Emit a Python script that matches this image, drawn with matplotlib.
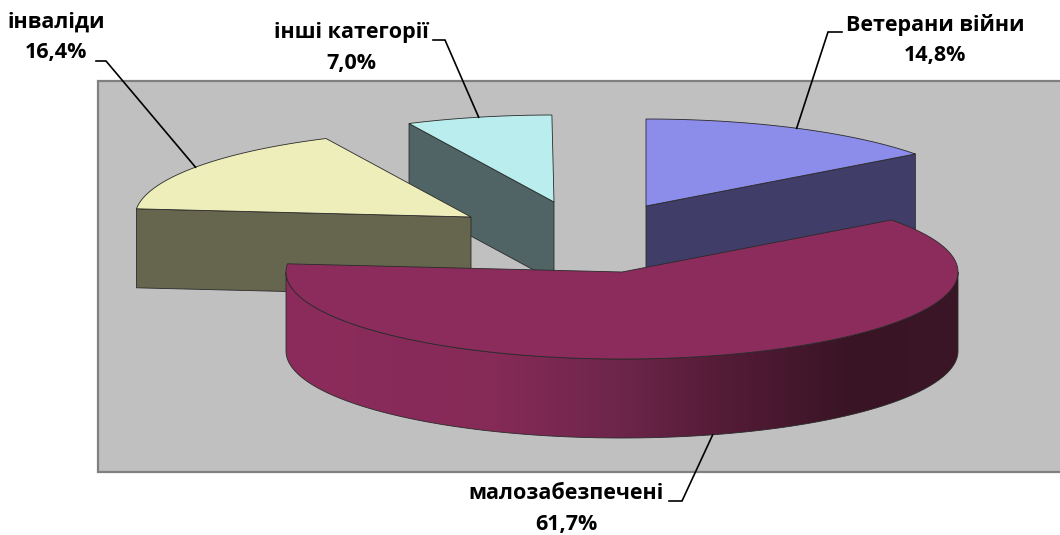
import numpy as np
import matplotlib
matplotlib.use('Agg')
import matplotlib.pyplot as plt
from matplotlib.colors import LinearSegmentedColormap
from matplotlib.patches import Polygon, Rectangle

plt.rcParams['font.family'] = ['Open Sans', 'DejaVu Sans']

# Datos del gráfico
categorias = ['Ветерани війни', 'малозабезпечені', 'інваліди', 'інші категорії']
porcentajes = [14.8, 61.7, 16.4, 7.0]
etiquetas = ['14,8%', '61,7%', '16,4%', '7,0%']

# Estilo de cada sector
centros = [(646, 206), (622, 272), (471, 217), (554, 202)]
color_arriba = ['#8C8CEB', '#8C2C5C', '#EEEEBA', '#BAEEEE']
color_lado = ['#403E68', '#8C2C5C', '#66664E', '#506466']
orden = [3, 0, 2, 1]
texto_pos = [(935, 40), (566, 509), (56, 37), (351, 48)]
guia_fin = [(842, 32), (669, 501), (96, 61), (433, 40)]
guia_codo = [(828, 32), (682, 501), (106, 61), (445, 40)]

RX, RY, PROF = 336, 87, 79
BORDE = '#2A2A2A'

fig = plt.figure(figsize=(10.6, 5.35), dpi=100)
ax = fig.add_axes([0, 0, 1, 1])

ax.add_patch(Rectangle((98, 81), 1000, 391, facecolor='#C0C0C0', edgecolor='#808080', lw=1.6, zorder=1))


def borde(c, t):
    t = np.radians(t)
    return np.column_stack([c[0] + RX * np.cos(t), c[1] - RY * np.sin(t)])


# Ángulos de inicio y fin, en sentido horario desde arriba
fin = 90 - 3.6 * np.cumsum(porcentajes)
inicio = fin + 3.6 * np.array(porcentajes)

z = 2
for i in orden:
    c = centros[i]
    a0, a1 = inicio[i], fin[i]
    # caras radiales visibles
    for a, n in [(a0, a0 + 90), (a1, a1 - 90)]:
        if np.sin(np.radians(n)) < -1e-6:
            p = borde(c, a)[0]
            cara = [c, p, (p[0], p[1] + PROF), (c[0], c[1] + PROF)]
            ax.add_patch(Polygon(cara, facecolor=color_lado[i], edgecolor=BORDE, lw=0.6, zorder=z))
    # pared curva frontal
    ts = np.linspace(a0, a1, 400)
    ts = ts[np.sin(np.radians(ts)) < 0]
    if len(ts) > 1:
        arr = borde(c, ts)
        aba = arr[::-1] + [0, PROF]
        pared = Polygon(np.vstack([arr, aba]), facecolor='none', edgecolor=BORDE, lw=0.6, zorder=z + 0.2)
        ax.add_patch(pared)
        cmap = LinearSegmentedColormap.from_list('lado', [
            (0.0, '#8C2C5C'), (0.31, '#862A58'), (0.49, '#6E264B'),
            (0.64, '#561C38'), (0.85, '#381424'), (1.0, '#3A1626')])
        img = ax.imshow(np.linspace(0, 1, 256)[None, :], cmap=cmap, aspect='auto',
                        extent=(arr[:, 0].min(), arr[:, 0].max(), c[1] + RY + PROF + 2, c[1] - 10),
                        zorder=z + 0.1)
        img.set_clip_path(pared)
    # cara superior
    sup = np.vstack([[c], borde(c, np.linspace(a0, a1, 200))])
    ax.add_patch(Polygon(sup, facecolor=color_arriba[i], edgecolor=BORDE, lw=0.6, zorder=z + 0.3))
    z += 1

# Etiquetas y líneas guía
for i in range(4):
    medio = (inicio[i] + fin[i]) / 2
    p = borde(centros[i], medio)[0]
    if np.sin(np.radians(medio)) < 0:
        p = p + [0, PROF]
    ax.plot([guia_fin[i][0], guia_codo[i][0], p[0]], [guia_fin[i][1], guia_codo[i][1], p[1]],
            color='black', lw=1.2, zorder=10, solid_joinstyle='miter')
    ax.text(texto_pos[i][0], texto_pos[i][1], categorias[i] + '\n' + etiquetas[i], ha='center', va='center',
            fontsize=15.5, fontweight='bold', color='black', linespacing=1.6, zorder=11)

ax.set_xlim(0, 1060)
ax.set_ylim(535, 0)
ax.axis('off')
fig.savefig('out.png', dpi=100)
